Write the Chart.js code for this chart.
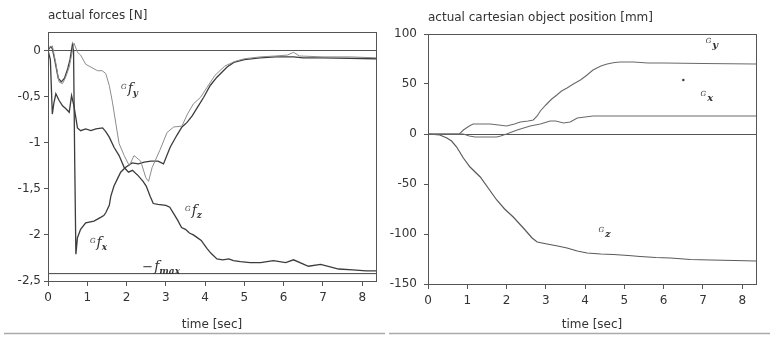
<!DOCTYPE html>
<html><head><meta charset="utf-8">
<script src="https://cdn.jsdelivr.net/npm/chart.js@4.4.0/dist/chart.umd.min.js"></script>
<style>
html,body{margin:0;padding:0;background:#fff;width:770px;height:338px;overflow:hidden}
.wrap{position:absolute;top:0;height:338px;width:385px}
#w1{left:0}
#w2{left:385px}
</style></head><body>
<div class="wrap" id="w1"><canvas id="c1" width="385" height="338"></canvas></div>
<div class="wrap" id="w2"><canvas id="c2" width="385" height="338"></canvas></div>
<script>
// ---- tick values ----
const timeTicks = [0,1,2,3,4,5,6,7,8];
const forceTicks = [-2.5,-2,-1.5,-1,-0.5,0];
const posTicks = [-150,-100,-50,0,50,100];

// ---- left panel: actual forces [N] ----
const fyTime = [0,0.11,0.2,0.28,0.37,0.45,0.54,0.66,0.75,0.83,0.96,1.09,1.26,1.38,1.47,1.56,1.64,1.73,1.81,1.94,2.07,2.19,2.36,2.49,2.56,2.65,2.86,3.03,3.2,3.41,3.55,3.7,3.88,4.05,4.25,4.5,4.75,5.0,5.4,5.8,6.1,6.25,6.4,7.0,7.7,8.35];
const fyValues = [0.02,0.05,-0.14,-0.34,-0.36,-0.29,-0.18,0.08,-0.02,-0.05,-0.15,-0.18,-0.22,-0.22,-0.25,-0.38,-0.56,-0.8,-1.01,-1.14,-1.25,-1.14,-1.2,-1.38,-1.42,-1.27,-1.07,-0.89,-0.83,-0.82,-0.69,-0.58,-0.51,-0.4,-0.27,-0.17,-0.12,-0.09,-0.07,-0.06,-0.05,-0.02,-0.06,-0.07,-0.07,-0.08];

const fxTime = [0,0.06,0.11,0.18,0.26,0.34,0.42,0.5,0.56,0.62,0.65,0.68,0.71,0.75,0.83,0.96,1.17,1.34,1.42,1.47,1.56,1.6,1.68,1.77,1.85,1.97,2.14,2.3,2.45,2.62,2.8,2.94,3.11,3.28,3.41,3.54,3.67,3.8,3.96,4.13,4.3,4.56,4.73,5.0,5.4,5.8,6.1,6.25,6.5,7.0,8.35];
const fxValues = [0,0.04,0.02,-0.12,-0.3,-0.34,-0.3,-0.2,-0.1,0.06,0.0,-1.2,-2.21,-2.03,-1.94,-1.87,-1.85,-1.81,-1.79,-1.76,-1.68,-1.58,-1.47,-1.39,-1.32,-1.27,-1.22,-1.23,-1.21,-1.2,-1.2,-1.23,-1.05,-0.92,-0.83,-0.78,-0.71,-0.62,-0.51,-0.38,-0.29,-0.18,-0.13,-0.1,-0.08,-0.07,-0.07,-0.07,-0.08,-0.08,-0.09];

const fzTime = [0,0.06,0.11,0.15,0.2,0.28,0.37,0.45,0.54,0.6,0.66,0.75,0.83,0.96,1.09,1.22,1.39,1.47,1.56,1.68,1.81,1.94,2.05,2.15,2.3,2.42,2.5,2.6,2.68,2.8,3.0,3.1,3.2,3.3,3.4,3.5,3.6,3.7,3.8,3.9,4.05,4.15,4.3,4.45,4.6,4.72,4.9,5.15,5.41,5.74,6.05,6.25,6.63,6.94,7.4,7.76,8.1,8.35];
const fzValues = [0,-0.1,-0.69,-0.57,-0.47,-0.54,-0.6,-0.63,-0.67,-0.49,-0.6,-0.84,-0.87,-0.85,-0.87,-0.85,-0.84,-0.88,-0.94,-1.05,-1.14,-1.27,-1.32,-1.3,-1.36,-1.42,-1.47,-1.58,-1.66,-1.67,-1.68,-1.7,-1.77,-1.84,-1.92,-1.94,-1.98,-2.0,-2.03,-2.06,-2.15,-2.2,-2.26,-2.27,-2.26,-2.28,-2.29,-2.3,-2.3,-2.28,-2.3,-2.27,-2.34,-2.32,-2.37,-2.38,-2.39,-2.39];

const fMaxTime = [0,8.35];
const fMaxValues = [-2.42,-2.42];

// ---- right panel: actual cartesian object position [mm] ----
const cyTime = [0,0.8,0.9,1.05,1.15,1.4,1.58,1.8,2.0,2.2,2.35,2.55,2.68,2.78,2.86,3.0,3.15,3.28,3.4,3.54,3.7,3.88,4.05,4.2,4.4,4.56,4.75,4.9,5.23,5.6,6.0,7.0,8.35];
const cyValues = [0,0,4,8,10,10,10,9,8,10,12,13,14,18,23,29,35,39,43,46,50,54,59,64,68,70,71.5,72,72,71,71,70.5,70];

const cxTime = [0,0.9,1.05,1.2,1.75,1.85,2.0,2.27,2.6,2.86,3.11,3.25,3.45,3.62,3.8,4.2,5.0,6.0,8.35];
const cxValues = [0,0,-2,-3,-3,-2,0,4,8,10,13,13,11,12,16,18,18,18,18];

const czTime = [0,0.3,0.48,0.6,0.73,0.9,1.07,1.33,1.55,1.75,1.95,2.17,2.45,2.65,2.78,3.03,3.3,3.54,3.8,4.05,4.4,4.72,5.1,5.4,5.8,6.17,6.68,7.2,7.8,8.35];
const czValues = [0,-1,-4,-7,-13,-24,-33,-43,-55,-66,-75,-83,-95,-104,-108,-110,-112,-114,-117,-119,-120,-120.5,-121.5,-122.5,-123.5,-124,-125.5,-126,-126.5,-127];

const strayTime = [6.5];
const strayValues = [54];

const toXY = (t, v) => t.map((x, i) => ({x, y: v[i]}));
const commaFmt = v => String(v).replace('.', ',');

const TXT = '#333';
const AX = '#555';
const SANS = '"DejaVu Sans", sans-serif';
const SERIF = '"DejaVu Serif", "Liberation Serif", serif';

const frame = {
  id: 'frame',
  afterDraw(chart) {
    const {ctx, chartArea: a} = chart;
    ctx.save();
    ctx.strokeStyle = AX; ctx.lineWidth = 1;
    ctx.strokeRect(Math.round(a.left) + 0.5, Math.round(a.top) + 0.5, Math.round(a.right - a.left), Math.round(a.bottom - a.top));
    ctx.strokeStyle = '#aaa'; ctx.lineWidth = 1.5;
    ctx.beginPath(); ctx.moveTo(4, 333.5); ctx.lineTo(chart.width, 333.5); ctx.stroke();
    ctx.restore();
  }
};

const curveLabels = {
  id: 'curveLabels',
  afterDatasetsDraw(chart, args, opts) {
    const ctx = chart.ctx, xs = chart.scales.x, ys = chart.scales.y;
    (opts.items || []).forEach(it => {
      let px = xs.getPixelForValue(it.x);
      const py = ys.getPixelForValue(it.y);
      ctx.save();
      ctx.fillStyle = TXT; ctx.textBaseline = 'alphabetic'; ctx.textAlign = 'left';
      it.parts.forEach(p => {
        ctx.font = (p.st || 'italic') + ' ' + p.s + 'px ' + (p.f || SERIF);
        ctx.fillText(p.t, px, py + (p.dy || 0));
        px += ctx.measureText(p.t).width + (p.gap || 0);
      });
      ctx.restore();
    });
  }
};

function axes(yMin, yMax, yTicks, xH, yW, yPad) {
  return {
    x: {
      type: 'linear', min: 0, max: 8.35,
      afterBuildTicks: s => { s.ticks = timeTicks.map(v => ({value: v})); },
      afterFit: s => { s.height = xH; },
      grid: {drawOnChartArea: false, color: AX, tickLength: 5, tickColor: AX},
      border: {display: true, color: AX, width: 1},
      ticks: {color: TXT, font: {family: SANS, size: 12}, padding: 5, maxRotation: 0, callback: v => String(v)},
      title: {display: true, text: 'time [sec]', color: TXT, font: {family: SANS, size: 12}, padding: {top: 4, bottom: 6}}
    },
    y: {
      type: 'linear', min: yMin, max: yMax,
      afterBuildTicks: s => { s.ticks = yTicks.map(v => ({value: v})); },
      afterFit: s => { s.width = yW; },
      grid: {color: c => (c.tick && c.tick.value === 0) ? AX : 'rgba(0,0,0,0)', tickColor: AX, tickLength: 4, lineWidth: 1},
      border: {display: true, color: AX, width: 1},
      ticks: {color: TXT, font: {family: SANS, size: 12}, padding: yPad, callback: v => commaFmt(v)}
    }
  };
}

const lineDs = (label, t, v, color, w) => ({
  label, data: toXY(t, v), borderColor: color, borderWidth: w,
  pointRadius: 0, tension: 0, fill: false
});

new Chart(document.getElementById('c1'), {
  type: 'line',
  data: {datasets: [
    lineDs('f_y', fyTime, fyValues, '#8c8c8c', 1),
    lineDs('f_x', fxTime, fxValues, '#3c3c3c', 1.3),
    lineDs('f_z', fzTime, fzValues, '#3c3c3c', 1.3),
    lineDs('-f_max', fMaxTime, fMaxValues, '#444', 1)
  ]},
  options: {
    responsive: false, animation: false, devicePixelRatio: 1,
    layout: {padding: {left: 0, right: 9, top: 9, bottom: 0}},
    scales: axes(-2.5, 0.2, forceTicks, 57, 48, 3),
    plugins: {
      legend: {display: false}, tooltip: {enabled: false},
      title: {display: true, text: 'actual forces [N]', align: 'start', fullSize: false, color: TXT,
              font: {family: SANS, size: 12, weight: 'normal'}, padding: {top: 0, bottom: 8.6}},
      curveLabels: {items: [
        {x: 1.86, y: -0.457, parts: [{t: 'G', s: 7, dy: -4, gap: 1}, {t: 'f', s: 14}, {t: 'y', s: 9, dy: 3, st: 'italic bold'}]},
        {x: 3.49, y: -1.78, parts: [{t: 'G', s: 7, dy: -4, gap: 1}, {t: 'f', s: 14}, {t: 'z', s: 9, dy: 3, st: 'italic bold'}]},
        {x: 1.07, y: -2.13, parts: [{t: 'G', s: 7, dy: -4, gap: 1}, {t: 'f', s: 14}, {t: 'x', s: 9, dy: 3, st: 'italic bold'}]},
        {x: 2.4, y: -2.39, parts: [{t: '\u2212', s: 13, st: 'normal', gap: 1}, {t: 'f', s: 14}, {t: 'max', s: 9, dy: 3, st: 'italic bold'}]}
      ]}
    }
  },
  plugins: [frame, curveLabels]
});

new Chart(document.getElementById('c2'), {
  type: 'line',
  data: {datasets: [
    lineDs('c_y', cyTime, cyValues, '#6a6a6a', 1.1),
    lineDs('c_x', cxTime, cxValues, '#6a6a6a', 1.1),
    lineDs('c_z', czTime, czValues, '#5a5a5a', 1.2),
    {label: 'point', type: 'scatter', data: toXY(strayTime, strayValues), pointRadius: 1.3, backgroundColor: '#444', borderWidth: 0, showLine: false}
  ]},
  options: {
    responsive: false, animation: false, devicePixelRatio: 1,
    layout: {padding: {left: 0, right: 14, top: 11, bottom: 0}},
    scales: axes(-150, 100, posTicks, 54, 43, 7),
    plugins: {
      legend: {display: false}, tooltip: {enabled: false},
      title: {display: true, text: 'actual cartesian object position [mm]', align: 'start', fullSize: false, color: TXT,
              font: {family: SANS, size: 12, weight: 'normal'}, padding: {top: 0, bottom: 8.6}},
      curveLabels: {items: [
        {x: 7.07, y: 87, parts: [{t: 'G', s: 7, dy: -4, gap: 1}, {t: 'y', s: 10, dy: 1, st: 'italic bold'}]},
        {x: 6.94, y: 34, parts: [{t: 'G', s: 7, dy: -4, gap: 1}, {t: 'x', s: 10, dy: 1, st: 'italic bold'}]},
        {x: 4.34, y: -102, parts: [{t: 'G', s: 7, dy: -4, gap: 1}, {t: 'z', s: 10, dy: 1, st: 'italic bold'}]}
      ]}
    }
  },
  plugins: [frame, curveLabels]
});
</script>
</body></html>
